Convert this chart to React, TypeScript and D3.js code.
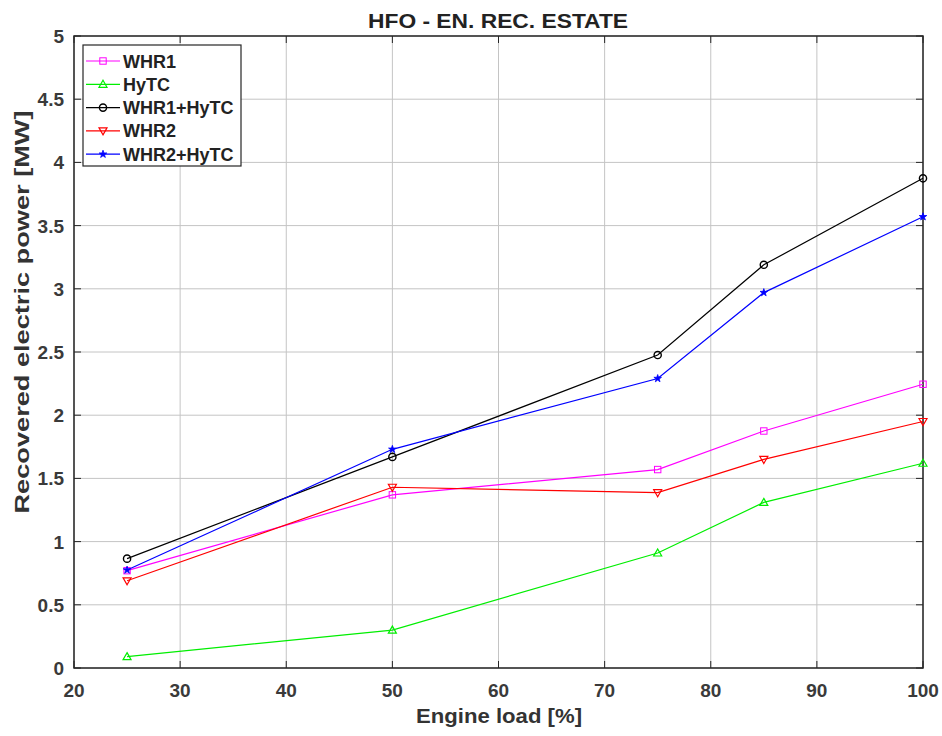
import React from "react";
import * as d3 from "d3";

const loads = [25, 50, 75, 85, 100];
const whr1 = [0.77, 1.37, 1.57, 1.875, 2.245];
const hytc = [0.09, 0.3, 0.91, 1.31, 1.62];
const whr1Hytc = [0.865, 1.67, 2.476, 3.19, 3.874];
const whr2 = [0.69, 1.43, 1.387, 1.65, 1.95];
const whr2Hytc = [0.775, 1.73, 2.29, 2.97, 3.57];

const seriesNames = ["WHR1", "HyTC", "WHR1+HyTC", "WHR2", "WHR2+HyTC"];
const seriesColors = ["#ff00ff", "#00ee00", "#000000", "#ff0000", "#0000ff"];
const seriesMarkers = ["square", "triangleUp", "circle", "triangleDown", "star"];

const xTicks = [20, 30, 40, 50, 60, 70, 80, 90, 100];
const yTicks = [0, 0.5, 1, 1.5, 2, 2.5, 3, 3.5, 4, 4.5, 5];

const W = 942, H = 736;
const L = 74, R = 923, T = 36, B = 668;
const FONT = "'Liberation Sans', Arial, sans-serif";

function Marker({ type, x, y, color }: { type: string; x: number; y: number; color: string }) {
  const s = 3.2;
  if (type === "square") return <rect x={x - s} y={y - s} width={2 * s} height={2 * s} fill="none" stroke={color} strokeWidth={1} />;
  if (type === "circle") return <circle cx={x} cy={y} r={3.6} fill="none" stroke={color} strokeWidth={1.4} />;
  if (type === "triangleUp") return <path d={`M${x},${y - 4} L${x + 4},${y + 3} L${x - 4},${y + 3}Z`} fill="none" stroke={color} strokeWidth={1.2} />;
  if (type === "triangleDown") return <path d={`M${x},${y + 4} L${x + 4},${y - 3} L${x - 4},${y - 3}Z`} fill="none" stroke={color} strokeWidth={1.2} />;
  const star = d3.symbol(d3.symbolStar, 18)();
  return <path d={star || ""} transform={`translate(${x},${y})`} fill={color} stroke={color} strokeWidth={0.8} />;
}

export default function App() {
  const x = d3.scaleLinear().domain([20, 100]).range([L, R]);
  const y = d3.scaleLinear().domain([0, 5]).range([B, T]);
  const data = [whr1, hytc, whr1Hytc, whr2, whr2Hytc];
  const line = d3.line<number>().x((_, i) => x(loads[i])).y((d) => y(d));
  const axisColor = "#262626";
  const gridColor = "#c4c4c4";
  const tickText = "#3a3a3a";

  return (
    <svg width={W} height={H} style={{ position: "absolute", left: 0, top: 0, background: "#fff" }} fontFamily={FONT}>
      <rect x={0} y={0} width={W} height={H} fill="#fff" />
      {xTicks.map((t) => (
        <line key={"gx" + t} x1={x(t)} x2={x(t)} y1={T} y2={B} stroke={gridColor} strokeWidth={1} />
      ))}
      {yTicks.map((t) => (
        <line key={"gy" + t} x1={L} x2={R} y1={y(t)} y2={y(t)} stroke={gridColor} strokeWidth={1} />
      ))}
      {xTicks.map((t) => (
        <g key={"tx" + t}>
          <line x1={x(t)} x2={x(t)} y1={B} y2={B - 7} stroke={axisColor} />
          <line x1={x(t)} x2={x(t)} y1={T} y2={T + 7} stroke={axisColor} />
          <text x={x(t)} y={697} textAnchor="middle" fontSize={19} fontWeight="bold" fill={tickText}>{t}</text>
        </g>
      ))}
      {yTicks.map((t) => (
        <g key={"ty" + t}>
          <line x1={L} x2={L + 7} y1={y(t)} y2={y(t)} stroke={axisColor} />
          <line x1={R} x2={R - 7} y1={y(t)} y2={y(t)} stroke={axisColor} />
          <text x={64} y={y(t) + 7} textAnchor="end" fontSize={19} fontWeight="bold" fill={tickText}>{t}</text>
        </g>
      ))}
      <rect x={L} y={T} width={R - L} height={B - T} fill="none" stroke={axisColor} strokeWidth={1.5} />
      {data.map((vals, si) => (
        <g key={"s" + si}>
          <path d={line(vals) || ""} fill="none" stroke={seriesColors[si]} strokeWidth={1.2} />
          {vals.map((v, i) => (
            <Marker key={i} type={seriesMarkers[si]} x={x(loads[i])} y={y(v)} color={seriesColors[si]} />
          ))}
        </g>
      ))}
      <rect x={83} y={45} width={158} height={121} fill="#fff" stroke={axisColor} strokeWidth={1.2} />
      {seriesNames.map((n, i) => {
        const ly = 61 + i * 23.3;
        return (
          <g key={"l" + i}>
            <line x1={86} x2={120} y1={ly} y2={ly} stroke={seriesColors[i]} strokeWidth={1.2} />
            <Marker type={seriesMarkers[i]} x={103} y={ly} color={seriesColors[i]} />
            <text x={123} y={ly + 6.5} fontSize={18} fontWeight="bold" fill="#222">{n}</text>
          </g>
        );
      })}
      <text x={498} y={28} textAnchor="middle" fontSize={21} fontWeight="bold" fill="#222" textLength={260} lengthAdjust="spacingAndGlyphs">HFO - EN. REC. ESTATE</text>
      <text x={499} y={723} textAnchor="middle" fontSize={21} fontWeight="bold" fill="#333" textLength={166} lengthAdjust="spacingAndGlyphs">Engine load [%]</text>
      <text transform={`translate(29,312) rotate(-90)`} textAnchor="middle" fontSize={21} fontWeight="bold" fill="#333" textLength={403} lengthAdjust="spacingAndGlyphs">Recovered electric power [MW]</text>
    </svg>
  );
}
